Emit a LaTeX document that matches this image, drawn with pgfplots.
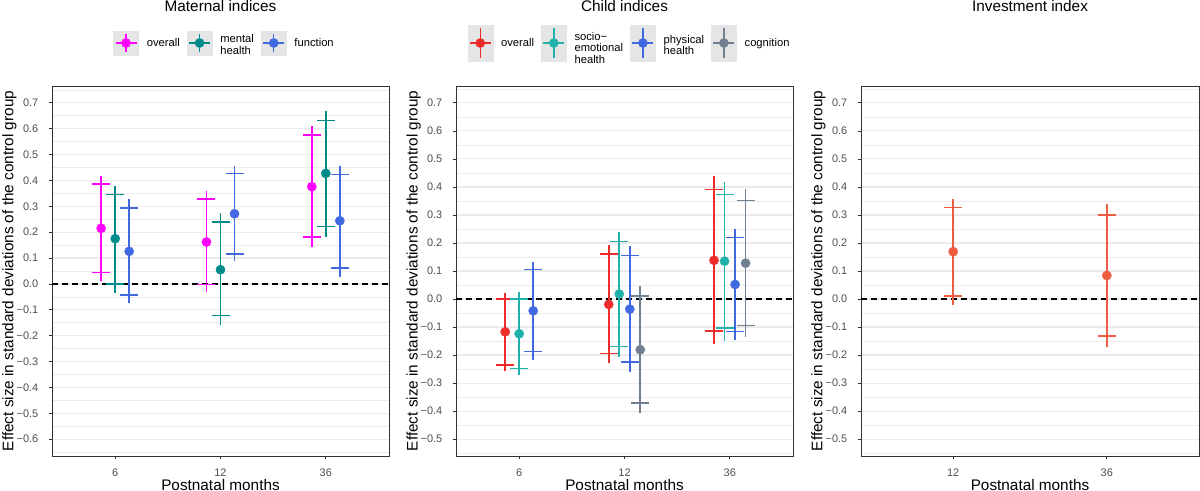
\documentclass[border=0pt]{standalone}
\usepackage{fontspec}
\setmainfont{Liberation Sans}
\usepackage{pgfplots}
\usepackage{pgfplotstable}
\pgfplotsset{compat=1.18}

\definecolor{cmag}{HTML}{FF00FF}
\definecolor{cteal}{HTML}{008B8B}
\definecolor{cblue}{HTML}{4169E1}
\definecolor{cred}{HTML}{EE2C2C}
\definecolor{cls}{HTML}{20B2AA}
\definecolor{cgray}{HTML}{708090}
\definecolor{corange}{HTML}{EE5C42}
\definecolor{keybg}{HTML}{E5E5E5}
\definecolor{gridc}{HTML}{EBEBEB}
\definecolor{tickc}{HTML}{4D4D4D}
\definecolor{framec}{HTML}{333333}

% columns: x position, estimate, 95% CI low/high, 90% CI low/high
\pgfplotstableread{
x y lo hi loa hia
0.867 0.215 0.013 0.417 0.045 0.386
1.867 0.162 -0.032 0.360 -0.003 0.328
2.867 0.376 0.142 0.612 0.181 0.575
}\matOverall
\pgfplotstableread{
x y lo hi loa hia
1 0.175 -0.035 0.378 0.000 0.346
2 0.055 -0.158 0.273 -0.123 0.240
3 0.427 0.181 0.669 0.222 0.631
}\matMental
\pgfplotstableread{
x y lo hi loa hia
1.133 0.126 -0.074 0.327 -0.043 0.294
2.133 0.271 0.087 0.455 0.115 0.427
3.133 0.244 0.027 0.456 0.062 0.423
}\matFunction
\pgfplotstableread{
x y lo hi loa hia
0.867 -0.117 -0.258 0.023 -0.236 0.000
1.85 -0.019 -0.229 0.192 -0.194 0.161
2.85 0.138 -0.162 0.439 -0.114 0.390
}\chOverall
\pgfplotstableread{
x y lo hi loa hia
1 -0.124 -0.270 0.025 -0.248 0.000
1.95 0.018 -0.206 0.240 -0.170 0.205
2.95 0.135 -0.149 0.418 -0.104 0.373
}\chSocio
\pgfplotstableread{
x y lo hi loa hia
1.133 -0.042 -0.217 0.131 -0.188 0.105
2.05 -0.036 -0.261 0.189 -0.225 0.156
3.05 0.052 -0.145 0.250 -0.115 0.219
}\chPhysical
\pgfplotstableread{
x y lo hi loa hia
2.15 -0.181 -0.408 0.045 -0.371 0.010
3.15 0.128 -0.137 0.392 -0.094 0.351
}\chCognition
\pgfplotstableread{
x y lo hi loa hia
1 0.169 -0.020 0.357 0.010 0.327
2 0.084 -0.171 0.338 -0.132 0.299
}\invIndex

\pgfplotsset{
  panel/.style={
    scale only axis, width=252.75pt, height=277.5pt,
    axis line style={framec, line width=0.5pt},
    tick align=outside, major tick length=2.6pt, minor tick length=0pt,
    tick style={framec, line width=0.5pt},
    xtick pos=bottom, ytick pos=left,
    ymajorgrids, yminorgrids,
    major grid style={gridc, line width=0.9pt},
    minor grid style={gridc, line width=0.45pt},
    minor ytick={-0.65,-0.55,-0.45,-0.35,-0.25,-0.15,-0.05,0.05,0.15,0.25,0.35,0.45,0.55,0.65,0.75},
    ticklabel style={font=\fontsize{8.2}{9}\selectfont, text=tickc},
    xticklabel style={anchor=base, inner sep=0pt, yshift=-12.75pt},
    yticklabel style={anchor=east, inner sep=0pt, xshift=-7.5pt},
    xlabel={Postnatal months},
    ylabel={Effect size in standard deviations of the control group},
    label style={font=\fontsize{11.5}{13}\selectfont},
    xlabel style={at={(axis description cs:0.5,0)}, anchor=base, yshift=-25.5pt},
    ylabel style={at={(axis description cs:-0.126,0.5)}, anchor=center},
    every axis title/.style={at={(axis description cs:0.5,1)}, anchor=base, yshift=55.7pt, font=\fontsize{11.5}{13}\selectfont},
    legend style={draw=none, fill=none, at={(axis description cs:0.5,1)}, anchor=center, yshift=32.25pt,
      font=\fontsize{8.4}{8.8}\selectfont, inner sep=0pt, outer sep=0pt,
      nodes={inner sep=0pt},
      /tikz/every odd column/.append style={column sep=6pt},
      /tikz/every even column/.append style={column sep=5.25pt}},
    legend columns=-1, legend cell align=left,
  },
  cikey/.style={legend image code/.code={
    \fill[keybg] (0pt,-#1) rectangle (18.75pt,#1);
    \draw[##1, line width=1.1pt] (9.375pt,-#1+2pt) -- (9.375pt,#1-2pt);
    \draw[##1, line width=1.1pt] (1.5pt,0pt) -- (17.25pt,0pt);
    \fill[##1] (9.375pt,0pt) circle (3.4pt);
  }},
  citick/.style={forget plot, only marks, mark=-, mark size=6.75pt, color=#1,
    mark options={line width=1.1pt, draw=#1}},
  cibar/.style={forget plot, only marks, mark=*, mark size=3.5pt, color=#1,
    mark options={draw=#1, fill=#1, line width=0.2pt},
    error bars/.cd, y dir=both, y explicit, error mark=none,
    error bar style={line width=1.3pt, color=#1}},
  zeroline/.style={forget plot, black, line width=0.9pt, dash pattern=on 4.5pt off 3pt},
}

\newcommand{\ciseries}[2]{%
  \addplot[citick=#2] table[x=x, y=loa] {#1};
  \addplot[citick=#2] table[x=x, y=hia] {#1};
  \addplot[cibar=#2] table[x=x, y=y, y error plus expr=\thisrow{hi}-\thisrow{y}, y error minus expr=\thisrow{y}-\thisrow{lo}] {#1};
}

\begin{document}
\begin{tikzpicture}
\useasboundingbox (0pt,0pt) rectangle (900pt,-368.25pt);

% ---------- Maternal indices ----------
\begin{axis}[panel, cikey=9pt, at={(39pt,-342pt)}, anchor=south west,
  title={Maternal indices},
  xmin=0.4, xmax=3.6, ymin=-0.665, ymax=0.765,
  xtick={1,2,3}, xticklabels={6,12,36},
  ytick={-0.6,-0.5,-0.4,-0.3,-0.2,-0.1,0,0.1,0.2,0.3,0.4,0.5,0.6,0.7},
  yticklabels={−0.6,−0.5,−0.4,−0.3,−0.2,−0.1,0.0,0.1,0.2,0.3,0.4,0.5,0.6,0.7},
  legend style={xshift=2.25pt}]
\addplot[zeroline] coordinates {(0.4,0) (3.6,0)};
\ciseries{\matOverall}{cmag}
\ciseries{\matMental}{cteal}
\ciseries{\matFunction}{cblue}
\addlegendimage{color=cmag}
\addlegendentry{overall}
\addlegendimage{color=cteal}
\addlegendentry{\begin{tabular}{@{}l@{}}mental\\health\end{tabular}}
\addlegendimage{color=cblue}
\addlegendentry{function}
\end{axis}

% ---------- Child indices ----------
\begin{axis}[panel, cikey=13.5pt, at={(342pt,-342pt)}, anchor=south west,
  title={Child indices},
  xmin=0.4, xmax=3.6, ymin=-0.56, ymax=0.76,
  xtick={1,2,3}, xticklabels={6,12,36},
  ytick={-0.5,-0.4,-0.3,-0.2,-0.1,0,0.1,0.2,0.3,0.4,0.5,0.6,0.7},
  yticklabels={−0.5,−0.4,−0.3,−0.2,−0.1,0.0,0.1,0.2,0.3,0.4,0.5,0.6,0.7},
  legend style={xshift=3pt}]
\addplot[zeroline] coordinates {(0.4,0) (3.6,0)};
\ciseries{\chOverall}{cred}
\ciseries{\chSocio}{cls}
\ciseries{\chPhysical}{cblue}
\ciseries{\chCognition}{cgray}
\addlegendimage{color=cred}
\addlegendentry{overall}
\addlegendimage{color=cls}
\addlegendentry{\begin{tabular}{@{}l@{}}socio−\\emotional\\health\end{tabular}}
\addlegendimage{color=cblue}
\addlegendentry{\begin{tabular}{@{}l@{}}physical\\health\end{tabular}}
\addlegendimage{color=cgray}
\addlegendentry{cognition}
\end{axis}

% ---------- Investment index ----------
\begin{axis}[panel, at={(645.75pt,-342pt)}, anchor=south west, width=253.5pt,
  title={Investment index},
  xmin=0.4, xmax=2.6, ymin=-0.56, ymax=0.76,
  xtick={1,2}, xticklabels={12,36},
  ytick={-0.5,-0.4,-0.3,-0.2,-0.1,0,0.1,0.2,0.3,0.4,0.5,0.6,0.7},
  yticklabels={−0.5,−0.4,−0.3,−0.2,−0.1,0.0,0.1,0.2,0.3,0.4,0.5,0.6,0.7}]
\addplot[zeroline] coordinates {(0.4,0) (2.6,0)};
\ciseries{\invIndex}{corange}
\end{axis}
\end{tikzpicture}
\end{document}
